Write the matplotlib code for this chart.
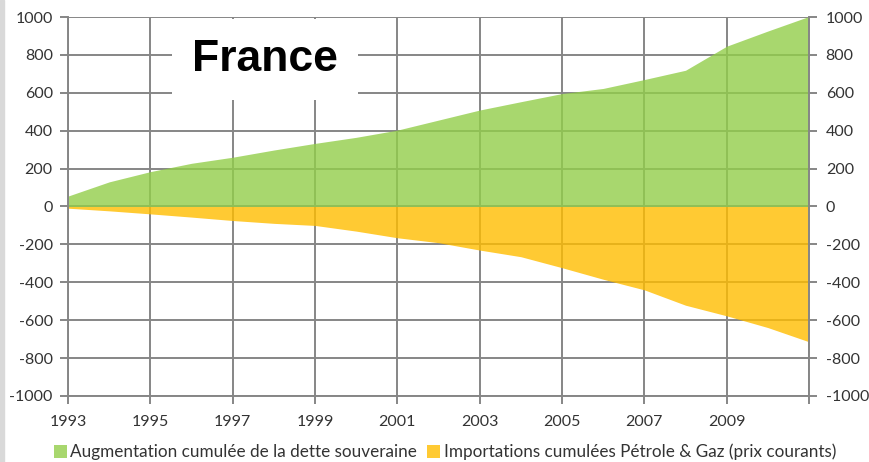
import numpy as np
import matplotlib
matplotlib.use("Agg")
import matplotlib.pyplot as plt

plt.rcParams["axes.unicode_minus"] = False

# cumulative values (Mds EUR)
years = [1993, 1994, 1995, 1996, 1997, 1998, 1999, 2000, 2001, 2002,
         2003, 2004, 2005, 2006, 2007, 2008, 2009, 2010, 2011]
dette = [55, 130, 184, 228, 260, 298, 333, 365, 403, 456,
         509, 553, 596, 623, 670, 719, 846, 926, 1003]
energie = [-9, -23, -39, -56, -74, -89, -100, -130, -165, -191,
           -230, -265, -323, -384, -440, -521, -577, -639, -714]

xticks = [1993, 1995, 1997, 1999, 2001, 2003, 2005, 2007, 2009]
yticks = [-1000, -800, -600, -400, -200, 0, 200, 400, 600, 800, 1000]
labels = ["Augmentation cumulée de la dette souveraine",
          "Importations cumulées Pétrole & Gaz (prix courants)"]

green = "#92ce4a"
orange = "#ffbd00"
grid_c = "#868686"
txt_c = "#333333"

fig = plt.figure(figsize=(8.69, 4.62), dpi=100)
ax = fig.add_axes([0.0783, 0.1429, 0.8527, 0.8203])

ax.fill_between(years, 0, dette, color=green, alpha=0.8, lw=0, zorder=2, label=labels[0])
ax.fill_between(years, 0, energie, color=orange, alpha=0.8, lw=0, zorder=2, label=labels[1])

ax.set_xlim(1993, 2011)
ax.set_ylim(-1000, 1000)
ax.set_xticks(xticks + [2011])
ax.set_xticklabels([str(y) for y in xticks] + [""])
ax.set_yticks(yticks)
ax.grid(True, color=grid_c, lw=1.4, zorder=1)
ax.set_axisbelow(True)

for s in ["left", "right", "bottom"]:
    ax.spines[s].set_color(grid_c)
    ax.spines[s].set_linewidth(1.4)
ax.spines["top"].set_visible(False)

ax.tick_params(axis="both", colors=grid_c, length=6, width=1.4, labelcolor=txt_c,
               labelsize=11.5)
ax.tick_params(axis="x", pad=8)
ax.tick_params(axis="y", pad=5)
for t in ax.get_xticklabels() + ax.get_yticklabels():
    t.set_family("Lato")

ax2 = ax.twinx()
ax2.set_ylim(-1000, 1000)
ax2.set_yticks(yticks)
ax2.tick_params(axis="y", colors=grid_c, length=6, width=1.4, labelcolor=txt_c,
                labelsize=11.5, pad=6)
for t in ax2.get_yticklabels():
    t.set_family("Lato")
for s in ax2.spines.values():
    s.set_visible(False)

ax.text(0.266, 0.889, "France", transform=ax.transAxes, ha="center", va="center",
        fontsize=32, fontweight="bold", family="Liberation Sans", color="black",
        zorder=5, bbox=dict(boxstyle="square,pad=0.45", fc="white", ec="none"))

fig.legend(loc="lower center", bbox_to_anchor=(0.512, -0.03), ncol=2, frameon=False,
           prop={"family": "Lato", "size": 12.3}, handlelength=0.75, handleheight=0.75,
           handletextpad=0.2, columnspacing=0.6, labelcolor=txt_c)

# light border on the left edge of the image
fig.patches.append(plt.Rectangle((0, 0), 0.005, 1, transform=fig.transFigure,
                                 color="#d9d9d9", zorder=0))

fig.savefig("out.png", dpi=100)
